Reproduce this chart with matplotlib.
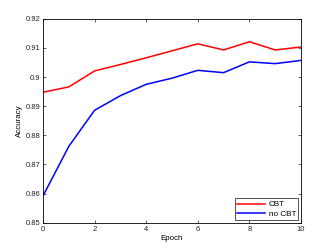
import matplotlib
matplotlib.use('Agg')
import matplotlib.pyplot as plt

# Данные
epochs = [0, 1, 2, 3, 4, 5, 6, 7, 8, 9, 10]
acc_cbt = [0.8948, 0.8966, 0.9021, 0.9043, 0.9066, 0.9090, 0.9114, 0.9093, 0.9121, 0.9093, 0.9103]
acc_no_cbt = [0.8592, 0.8762, 0.8886, 0.8936, 0.8975, 0.8996, 0.9023, 0.9015, 0.9052, 0.9046, 0.9057]

plt.rcParams['font.family'] = ['Liberation Sans', 'DejaVu Sans']

fig = plt.figure(figsize=(3.32, 2.5), dpi=100)
ax = fig.add_axes([0.1295, 0.109, 0.777, 0.816])

ax.plot(epochs, acc_cbt, color='red', linewidth=1.1, label='CBT')
ax.plot(epochs, acc_no_cbt, color='blue', linewidth=1.1, label='no CBT')

ax.set_xlim(0, 10)
ax.set_ylim(0.85, 0.92)
ax.set_xticks([0, 2, 4, 6, 8, 10])
ax.set_yticks([0.85, 0.86, 0.87, 0.88, 0.89, 0.9, 0.91, 0.92])
ax.set_yticklabels(['0.85', '0.86', '0.87', '0.88', '0.89', '0.9', '0.91', '0.92'])
ax.tick_params(direction='in', length=2.5, width=0.5, labelsize=5.5, pad=2,
               top=True, right=True, colors='#222222')
for s in ax.spines.values():
    s.set_linewidth(0.6)

ax.set_xlabel('Epoch', fontsize=5.7, labelpad=1.5)
ax.set_ylabel('Accuracy', fontsize=5.7, labelpad=2)

leg = ax.legend(loc='lower right', fontsize=5.9, frameon=True, fancybox=False,
                edgecolor='black', borderpad=0.3, handlelength=3.4,
                labelspacing=0.2, handletextpad=0.4, borderaxespad=0.3)
leg.get_frame().set_linewidth(0.6)

plt.savefig('out.png', dpi=100)
plt.close()
